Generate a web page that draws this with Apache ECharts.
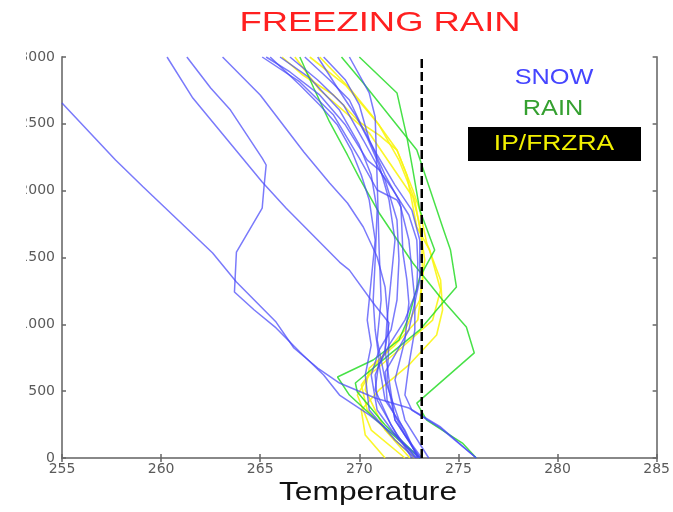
<!DOCTYPE html>
<html>
<head>
<meta charset="utf-8">
<script src="https://cdn.jsdelivr.net/npm/echarts@6/dist/echarts.min.js"></script>
<style>
  html, body { margin: 0; padding: 0; background: #fff; }
  #chart { width: 673px; height: 512px; }
</style>
</head>
<body>
<div id="chart"></div>
<script>
// temperature (K) vs height (m) soundings
const xTicks = [255, 260, 265, 270, 275, 280, 285];
const yTicks = [0, 500, 1000, 1500, 2000, 2500, 3000];
const freezingPoint = 273.15;

const snowSoundings = [
  [[255.0,2656],[257.7,2229],[259.1,2027],[262.6,1534],[263.8,1317],[265.8,1017],[266.7,823],[267.9,673],[269.0,561],[270.8,449],[272.5,374],[274.1,232],[275.9,0]],
  [[261.3,3000],[262.5,2768],[263.5,2603],[265.1,2244],[265.3,2192],[265.2,2042],[265.1,1870],[263.8,1541],[263.7,1242],[264.7,1107],[265.8,973],[267.0,793],[268.2,621],[269.0,471],[270.5,322],[271.9,157],[273.05,0]],
  [[260.3,3000],[261.6,2693],[265.1,2065],[266.3,1870],[269.0,1466],[269.5,1406],[270.7,1160],[271.5,1010],[271.3,808],[270.8,621],[270.9,434],[271.9,172],[272.85,0]],
  [[263.1,3000],[265.0,2716],[267.2,2289],[268.5,2057],[269.4,1908],[270.2,1728],[270.9,1504],[271.3,1279],[271.4,1107],[271.5,883],[271.4,584],[271.8,284],[273.05,0]],
  [[265.1,3000],[267.0,2813],[268.7,2566],[270.0,2244],[270.9,2005],[271.9,1930],[272.1,1878],[272.2,1534],[272.4,1332],[272.5,1160],[272.3,883],[271.8,584],[272.3,284],[273.5,0]],
  [[269.5,3000],[270.5,2731],[270.8,2551],[270.9,2080],[271.0,1556],[271.1,1182],[270.9,883],[271.3,584],[272.0,284],[272.95,0]],
  [[265.3,3000],[266.5,2888],[268.0,2716],[269.3,2491],[270.4,2229],[271.0,2155],[271.7,2005],[272.5,1818],[272.9,1631],[272.95,1459],[272.9,1257],[272.3,1032],[271.5,845],[271.0,696],[271.3,434],[272.3,209],[272.95,0]],
  [[265.5,3000],[267.0,2790],[268.0,2641],[268.9,2491],[269.6,2304],[270.1,2117],[270.5,1930],[270.8,1631],[270.6,1332],[270.4,1032],[270.6,845],[270.3,621],[270.5,359],[271.8,135],[272.8,0]],
  [[267.25,3000],[268.5,2828],[269.5,2678],[270.1,2491],[270.9,2267],[271.8,2042],[272.65,1855],[273.05,1631],[273.05,1332],[272.5,958],[271.8,771],[271.3,643],[271.4,434],[272.3,172],[273.15,0]],
  [[267.9,3000],[268.9,2768],[269.8,2566],[270.4,2394],[271.0,2192],[271.5,1930],[271.8,1631],[271.6,1332],[271.4,1032],[271.3,808],[271.5,584],[271.8,284],[273.05,0]],
  [[268.2,3000],[269.3,2828],[270.0,2641],[270.5,2379],[271.3,2117],[272.0,1930],[272.5,1631],[272.8,1182],[272.8,958],[272.5,696],[272.3,471],[272.65,359],[274.1,224],[275.9,0]],
  [[266.0,3000],[267.5,2843],[269.0,2603],[270.0,2342],[270.6,2117],[270.9,1855],[270.8,1481],[270.7,1182],[270.8,958],[271.0,733],[270.8,509],[271.6,247],[272.65,0]],
  [[266.5,3000],[267.9,2828],[269.2,2641],[270.2,2379],[271.3,2080],[271.9,1780],[272.0,1481],[271.9,1182],[271.6,958],[271.0,808],[270.6,621],[270.9,359],[272.0,135],[272.9,0]]
];

const rainSoundings = [
  [[270.0,3000],[271.9,2731],[272.4,2401],[272.7,2155],[273.05,1855],[273.8,1556],[273.05,1354],[272.5,1055],[272.0,883],[270.7,733],[268.9,606],[269.5,471],[271.3,224],[273.05,0]],
  [[269.1,3000],[270.2,2805],[272.9,2304],[274.2,1728],[274.6,1556],[274.9,1279],[274.2,1160],[273.05,958],[271.5,771],[269.8,561],[269.9,494],[271.3,247],[273.05,0]],
  [[267.0,3000],[267.7,2768],[268.5,2514],[269.4,2267],[270.0,2095],[271.0,1833],[272.7,1459],[274.2,1182],[275.4,980],[275.8,786],[272.9,411],[273.4,284],[275.2,112],[275.9,0]]
];

const frzraSoundings = [
  [[266.1,3000],[267.15,2865],[268.7,2716],[270.0,2514],[271.0,2416],[271.9,2304],[272.7,2005],[273.05,1855],[273.4,1608],[274.1,1332],[274.2,1107],[273.9,920],[272.5,696],[271.0,509],[270.1,359],[270.3,172],[271.3,0]],
  [[268.0,3000],[269.5,2768],[270.7,2551],[271.9,2304],[272.4,2117],[272.9,1728],[273.55,1556],[274.1,1257],[273.7,1032],[272.0,808],[270.5,621],[269.9,471],[270.6,209],[272.3,0]],
  [[266.75,3000],[268.0,2753],[270.5,2431],[272.7,1953],[273.05,1743],[273.3,1481],[273.05,1182],[272.3,958],[271.0,733],[270.1,546],[270.4,359],[271.8,135],[272.8,0]],
  [[267.5,3000],[269.3,2790],[271.0,2491],[272.0,2229],[272.8,1930],[273.15,1631],[273.2,1332],[272.95,1032],[271.8,845],[270.5,673],[270.3,509],[271.3,209],[272.55,0]]
];

const chart = echarts.init(document.getElementById('chart'), null, { renderer: 'canvas' });

const font = 'Liberation Sans, Arial, sans-serif';
const frame = { show: true, lineStyle: { color: '#888', width: 2 } };
const tick = { show: true, inside: true, length: 4, lineStyle: { color: '#666', width: 1.5 } };
const tickLabel = { color: '#5a5a5a', fontSize: 14, fontFamily: 'DejaVu Sans' };

function profileSeries(list, color, width) {
  return list.map(p => ({
    type: 'line',
    data: p,
    showSymbol: false,
    silent: true,
    animation: false,
    lineStyle: { color: color, width: width },
    z: 2
  }));
}

const series = [].concat(
  profileSeries(frzraSoundings, 'rgba(250,245,20,0.9)', 1.6),
  profileSeries(rainSoundings, 'rgba(40,220,40,0.85)', 1.5),
  profileSeries(snowSoundings, 'rgba(70,70,250,0.72)', 1.5),
  [{
    type: 'line',
    data: [[freezingPoint, yTicks[0]], [freezingPoint, yTicks[yTicks.length - 1]]],
    showSymbol: false,
    animation: false,
    lineStyle: { color: '#000', width: 2.5, type: [9, 4] },
    z: 5
  }]
);

const option = {
  animation: false,
  textStyle: { fontFamily: font },
  grid: { left: 62, right: 16, top: 57, bottom: 54 },
  xAxis: [
    {
      type: 'value', min: xTicks[0], max: xTicks[xTicks.length - 1], interval: 5,
      axisLine: frame, axisTick: tick, splitLine: { show: false },
      axisLabel: Object.assign({ margin: 4, formatter: v => String(v) }, tickLabel)
    },
    {
      type: 'value', position: 'top', min: xTicks[0], max: xTicks[xTicks.length - 1], interval: 5,
      axisLine: frame, axisTick: tick, splitLine: { show: false }, axisLabel: { show: false }
    }
  ],
  yAxis: [
    {
      type: 'value', min: yTicks[0], max: yTicks[yTicks.length - 1], interval: 500,
      axisLine: frame, axisTick: tick, splitLine: { show: false },
      axisLabel: Object.assign({ margin: 7, formatter: v => String(v) }, tickLabel)
    },
    {
      type: 'value', position: 'right', min: yTicks[0], max: yTicks[yTicks.length - 1], interval: 500,
      axisLine: frame, axisTick: tick, splitLine: { show: false }, axisLabel: { show: false }
    }
  ],
  graphic: [
    // the original picture is cropped on the left, hiding the first digit
    { type: 'rect', shape: { x: 0, y: 45, width: 26, height: 405 }, style: { fill: '#fff' }, z: 100 },
    {
      type: 'text', x: 380, y: 23, scaleX: 1.3, z: 100,
      style: { text: 'FREEZING RAIN', fill: '#ff2020', font: '28px ' + font, align: 'center', verticalAlign: 'middle' }
    },
    {
      type: 'text', x: 368, y: 493, scaleX: 1.22, z: 100,
      style: { text: 'Temperature', fill: '#111', font: '26px ' + font, align: 'center', verticalAlign: 'middle' }
    },
    {
      type: 'text', x: 554, y: 78, scaleX: 1.15, z: 100,
      style: { text: 'SNOW', fill: '#4545ff', font: '22px ' + font, align: 'center', verticalAlign: 'middle' }
    },
    {
      type: 'text', x: 553, y: 109, scaleX: 1.15, z: 100,
      style: { text: 'RAIN', fill: '#35a030', font: '22px ' + font, align: 'center', verticalAlign: 'middle' }
    },
    { type: 'rect', shape: { x: 468, y: 127, width: 173, height: 34 }, style: { fill: '#000' }, z: 100 },
    {
      type: 'text', x: 554, y: 144, scaleX: 1.2, z: 101,
      style: { text: 'IP/FRZRA', fill: '#f2f000', font: '22px ' + font, align: 'center', verticalAlign: 'middle' }
    }
  ],
  series: series
};

chart.setOption(option);
</script>
</body>
</html>
